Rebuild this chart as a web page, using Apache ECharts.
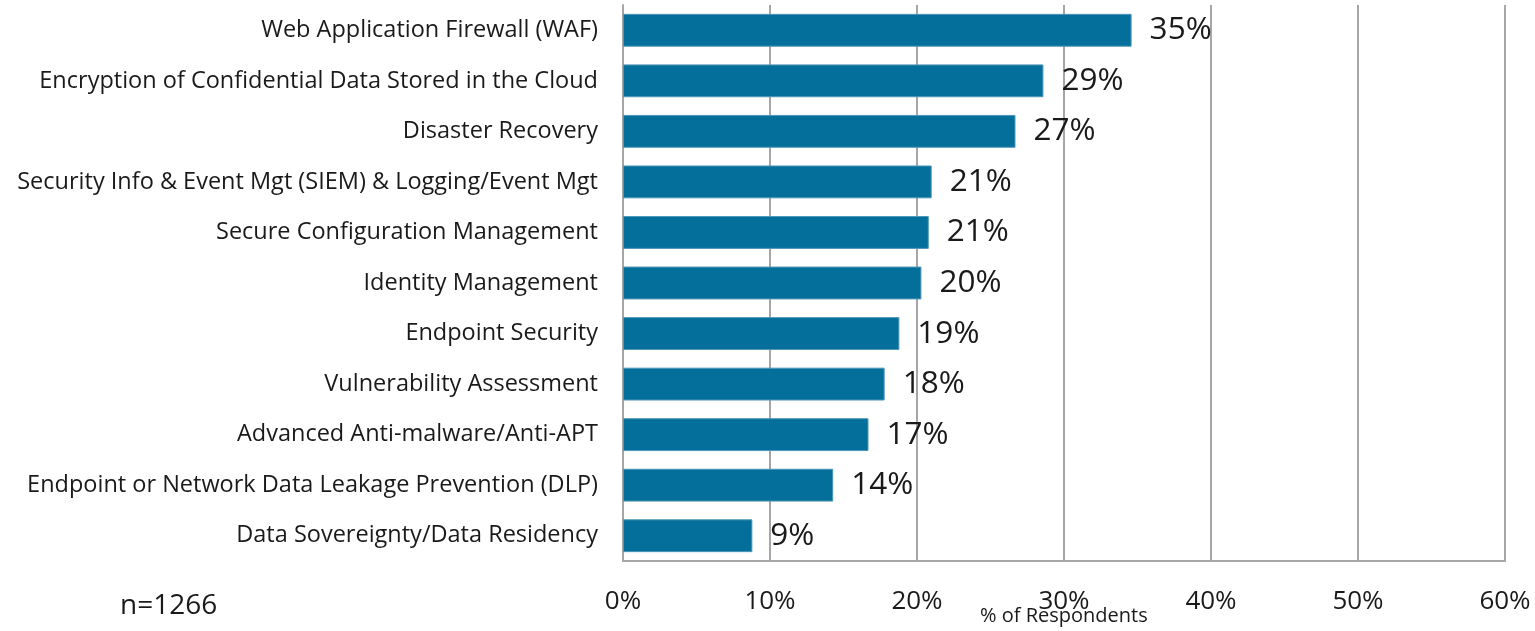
<!DOCTYPE html>
<html>
<head>
<meta charset="utf-8">
<script src="https://cdn.jsdelivr.net/npm/echarts@6/dist/echarts.min.js"></script>
<style>
  html, body { margin: 0; padding: 0; background: #fff; }
  #chart { width: 1535px; height: 631px; }
</style>
</head>
<body>
<div id="chart"></div>
<script>
const categories = [
  'Web Application Firewall (WAF)',
  'Encryption of Confidential Data Stored in the Cloud',
  'Disaster Recovery',
  'Security Info & Event Mgt (SIEM) & Logging/Event Mgt',
  'Secure Configuration Management',
  'Identity Management',
  'Endpoint Security',
  'Vulnerability Assessment',
  'Advanced Anti-malware/Anti-APT',
  'Endpoint or Network Data Leakage Prevention (DLP)',
  'Data Sovereignty/Data Residency'
]
const respondents = [34.6, 28.6, 26.7, 21.0, 20.8, 20.3, 18.8, 17.8, 16.7, 14.3, 8.8]
const xTicks = [0, 10, 20, 30, 40, 50, 60]

const font = '"Open Sans", "Noto Sans", sans-serif'
const myChart = echarts.init(document.getElementById('chart'))
const option = {
  animation: false,
  textStyle: { fontFamily: font },
  grid: {
    left: 623,
    right: 30,
    top: 5,
    bottom: 70,
    containLabel: false
  },
  xAxis: {
    type: 'value',
    min: xTicks[0],
    max: xTicks[xTicks.length - 1],
    interval: 10,
    axisLine: { show: true, lineStyle: { color: '#a6a6a6', width: 2 } },
    axisTick: { show: false },
    splitLine: { show: true, lineStyle: { color: '#a6a6a6', width: 2 } },
    axisLabel: {
      formatter: '{value}%',
      color: '#1a1a1a',
      fontSize: 26,
      margin: 28,
      fontFamily: font
    }
  },
  yAxis: {
    type: 'category',
    inverse: true,
    data: categories,
    axisLine: { show: true, lineStyle: { color: '#a6a6a6', width: 2 } },
    axisTick: { show: false },
    axisLabel: {
      color: '#1a1a1a',
      fontSize: 23.5,
      margin: 25,
      padding: [5, 0, 0, 0],
      fontFamily: font
    }
  },
  series: [
    {
      type: 'bar',
      data: respondents,
      barWidth: '65%',
      itemStyle: { color: '#056f9b', borderColor: '#4f97b8', borderWidth: 1 },
      label: {
        show: true,
        position: 'right',
        distance: 18,
        color: '#1a1a1a',
        fontSize: 31.5,
        fontFamily: font,
        formatter: p => Math.round(p.value) + '%'
      }
    }
  ],
  graphic: [
    {
      type: 'text',
      left: 120,
      top: 592,
      style: { text: 'n=1266', fontSize: 28, fill: '#1a1a1a', fontFamily: font }
    },
    {
      type: 'text',
      left: 980,
      top: 606,
      style: { text: '% of Respondents', fontSize: 20, fill: '#1a1a1a', fontFamily: font }
    }
  ]
}
myChart.setOption(option)
</script>
</body>
</html>
